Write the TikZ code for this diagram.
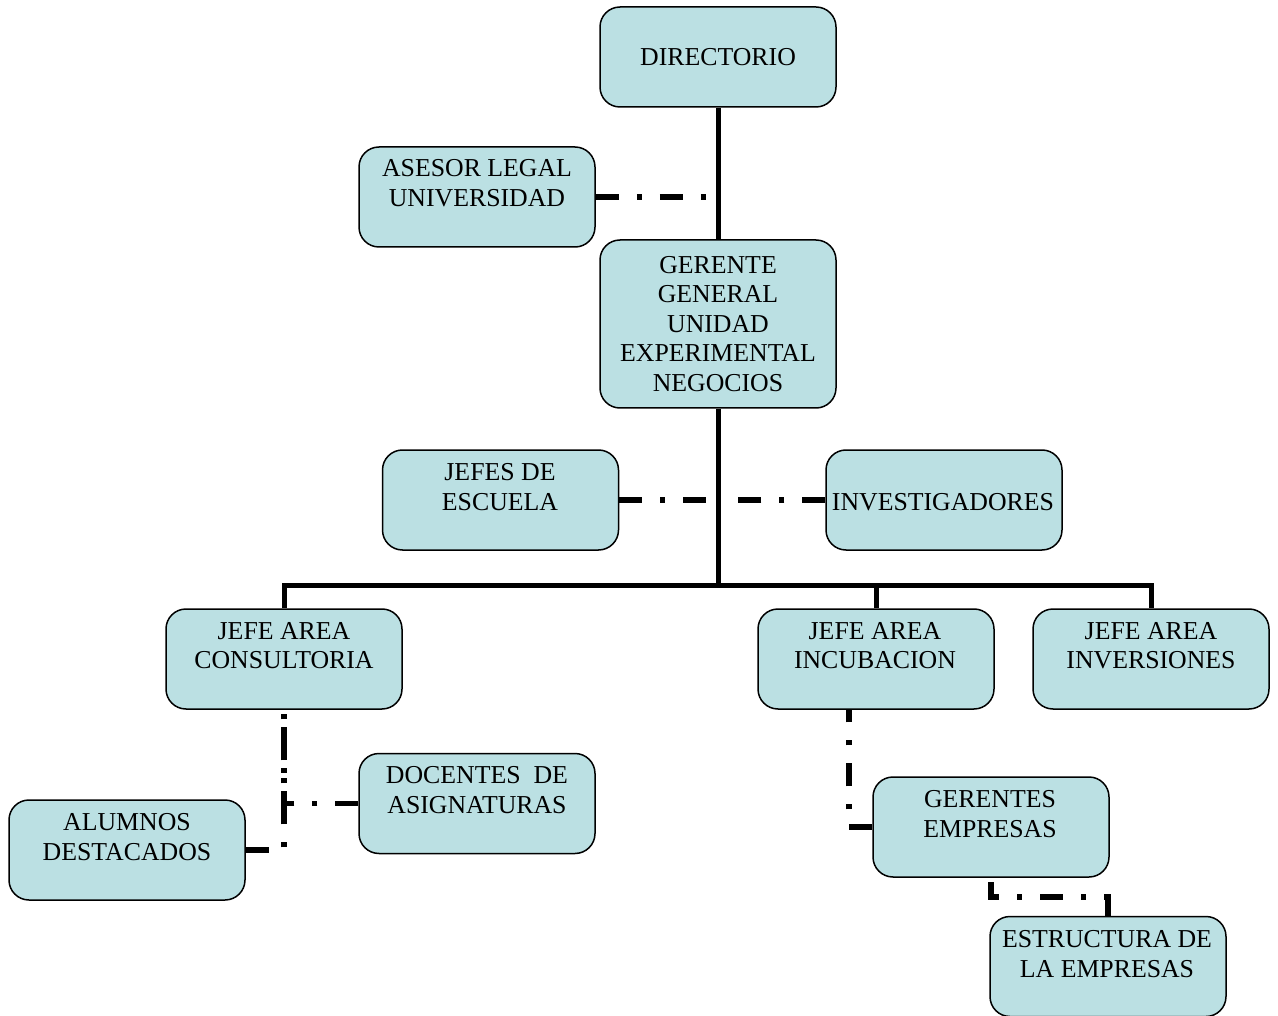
\documentclass[tikz,border=0pt]{standalone}
\usepackage{fontspec}
\setmainfont{Liberation Serif}
\definecolor{boxfill}{RGB}{187,224,227}
\begin{document}
\begin{tikzpicture}[x=1pt,y=-1pt,
  box/.style={draw=black,line width=1.5pt,fill=boxfill,rounded corners=20pt,
    minimum width=236pt,minimum height=100pt,inner sep=0pt},
  txt/.style={align=center,inner sep=0pt,font=\fontsize{25.8}{29.5}\selectfont},
  mainline/.style={line width=5pt},
  ddline/.style={line width=5.5pt,dash pattern=on 23pt off 18pt on 5pt off 18pt}]
\useasboundingbox (0,0) rectangle (1278,1016);
% boxes
\node[box] (dir) at (718,57) {};
\node[box] (ase) at (477,197) {};
\node[box,minimum height=168pt] (ger) at (718,324) {};
\node[box] (jef) at (500.5,500) {};
\node[box] (inv) at (944,500) {};
\node[box] (con) at (284,659) {};
\node[box] (inc) at (876,659) {};
\node[box] (ins) at (1151,659) {};
\node[box] (doc) at (477,803.5) {};
\node[box] (alu) at (127,850) {};
\node[box] (gem) at (991,827) {};
\node[box] (est) at (1108,966.5) {};
% texts
\node[txt] (dirt) at (718,57) {DIRECTORIO};
\node[txt] (aset) at (477,183) {ASESOR LEGAL\\UNIVERSIDAD};
\node[txt] (gert) at (718,324) {GERENTE\\GENERAL\\UNIDAD\\EXPERIMENTAL\\NEGOCIOS};
\node[txt] (jeft) at (500,487) {JEFES DE\\ESCUELA};
\node[txt] (invt) at (943,502) {INVESTIGADORES};
\node[txt] (cont) at (284,645.5) {JEFE AREA\\CONSULTORIA};
\node[txt] (inct) at (875,645.5) {JEFE AREA\\INCUBACION};
\node[txt] (inst) at (1151,645.5) {JEFE AREA\\INVERSIONES};
\node[txt] (doct) at (477,790) {DOCENTES\ \ DE\\ASIGNATURAS};
\node[txt] (alut) at (127,837) {ALUMNOS\\DESTACADOS};
\node[txt] (gemt) at (990,814) {GERENTES\\EMPRESAS};
\node[txt] (estt) at (1107,954) {ESTRUCTURA DE\\LA EMPRESAS};
% coordinates
\coordinate (bus) at (718,585);
\coordinate (aseEnd) at (706,197);
\coordinate (jefEnd) at (707,500);
\coordinate (invEnd) at (738,500);
\coordinate (conA) at (284,850);
\coordinate (conD) at (284,803.5);
\coordinate (incC) at (849,827);
\coordinate (gemC) at (991,897);
% solid lines
\draw[mainline] (dir.south) -- (ger.north);
\draw[mainline] (ger.south) -- (bus);
\draw[mainline] (con.north) |- (ins.north |- bus) -- (ins.north);
\draw[mainline] (inc.north) -- (inc.north |- bus);
% dash-dot lines
\draw[ddline] (ase.east) -- (aseEnd);
\draw[ddline] (jef.east) -- (jefEnd);
\draw[ddline] (inv.west) -- (invEnd);
\draw[ddline] (alu.east) -- (conA) -- (con.south);
\draw[ddline] (doc.west) -- (conD) -- (con.south);
\draw[ddline] (gem.west) -- (incC) -- (incC |- inc.south);
\draw[ddline] (est.north) |- (gemC) -- (gem.south);
\end{tikzpicture}
\end{document}
